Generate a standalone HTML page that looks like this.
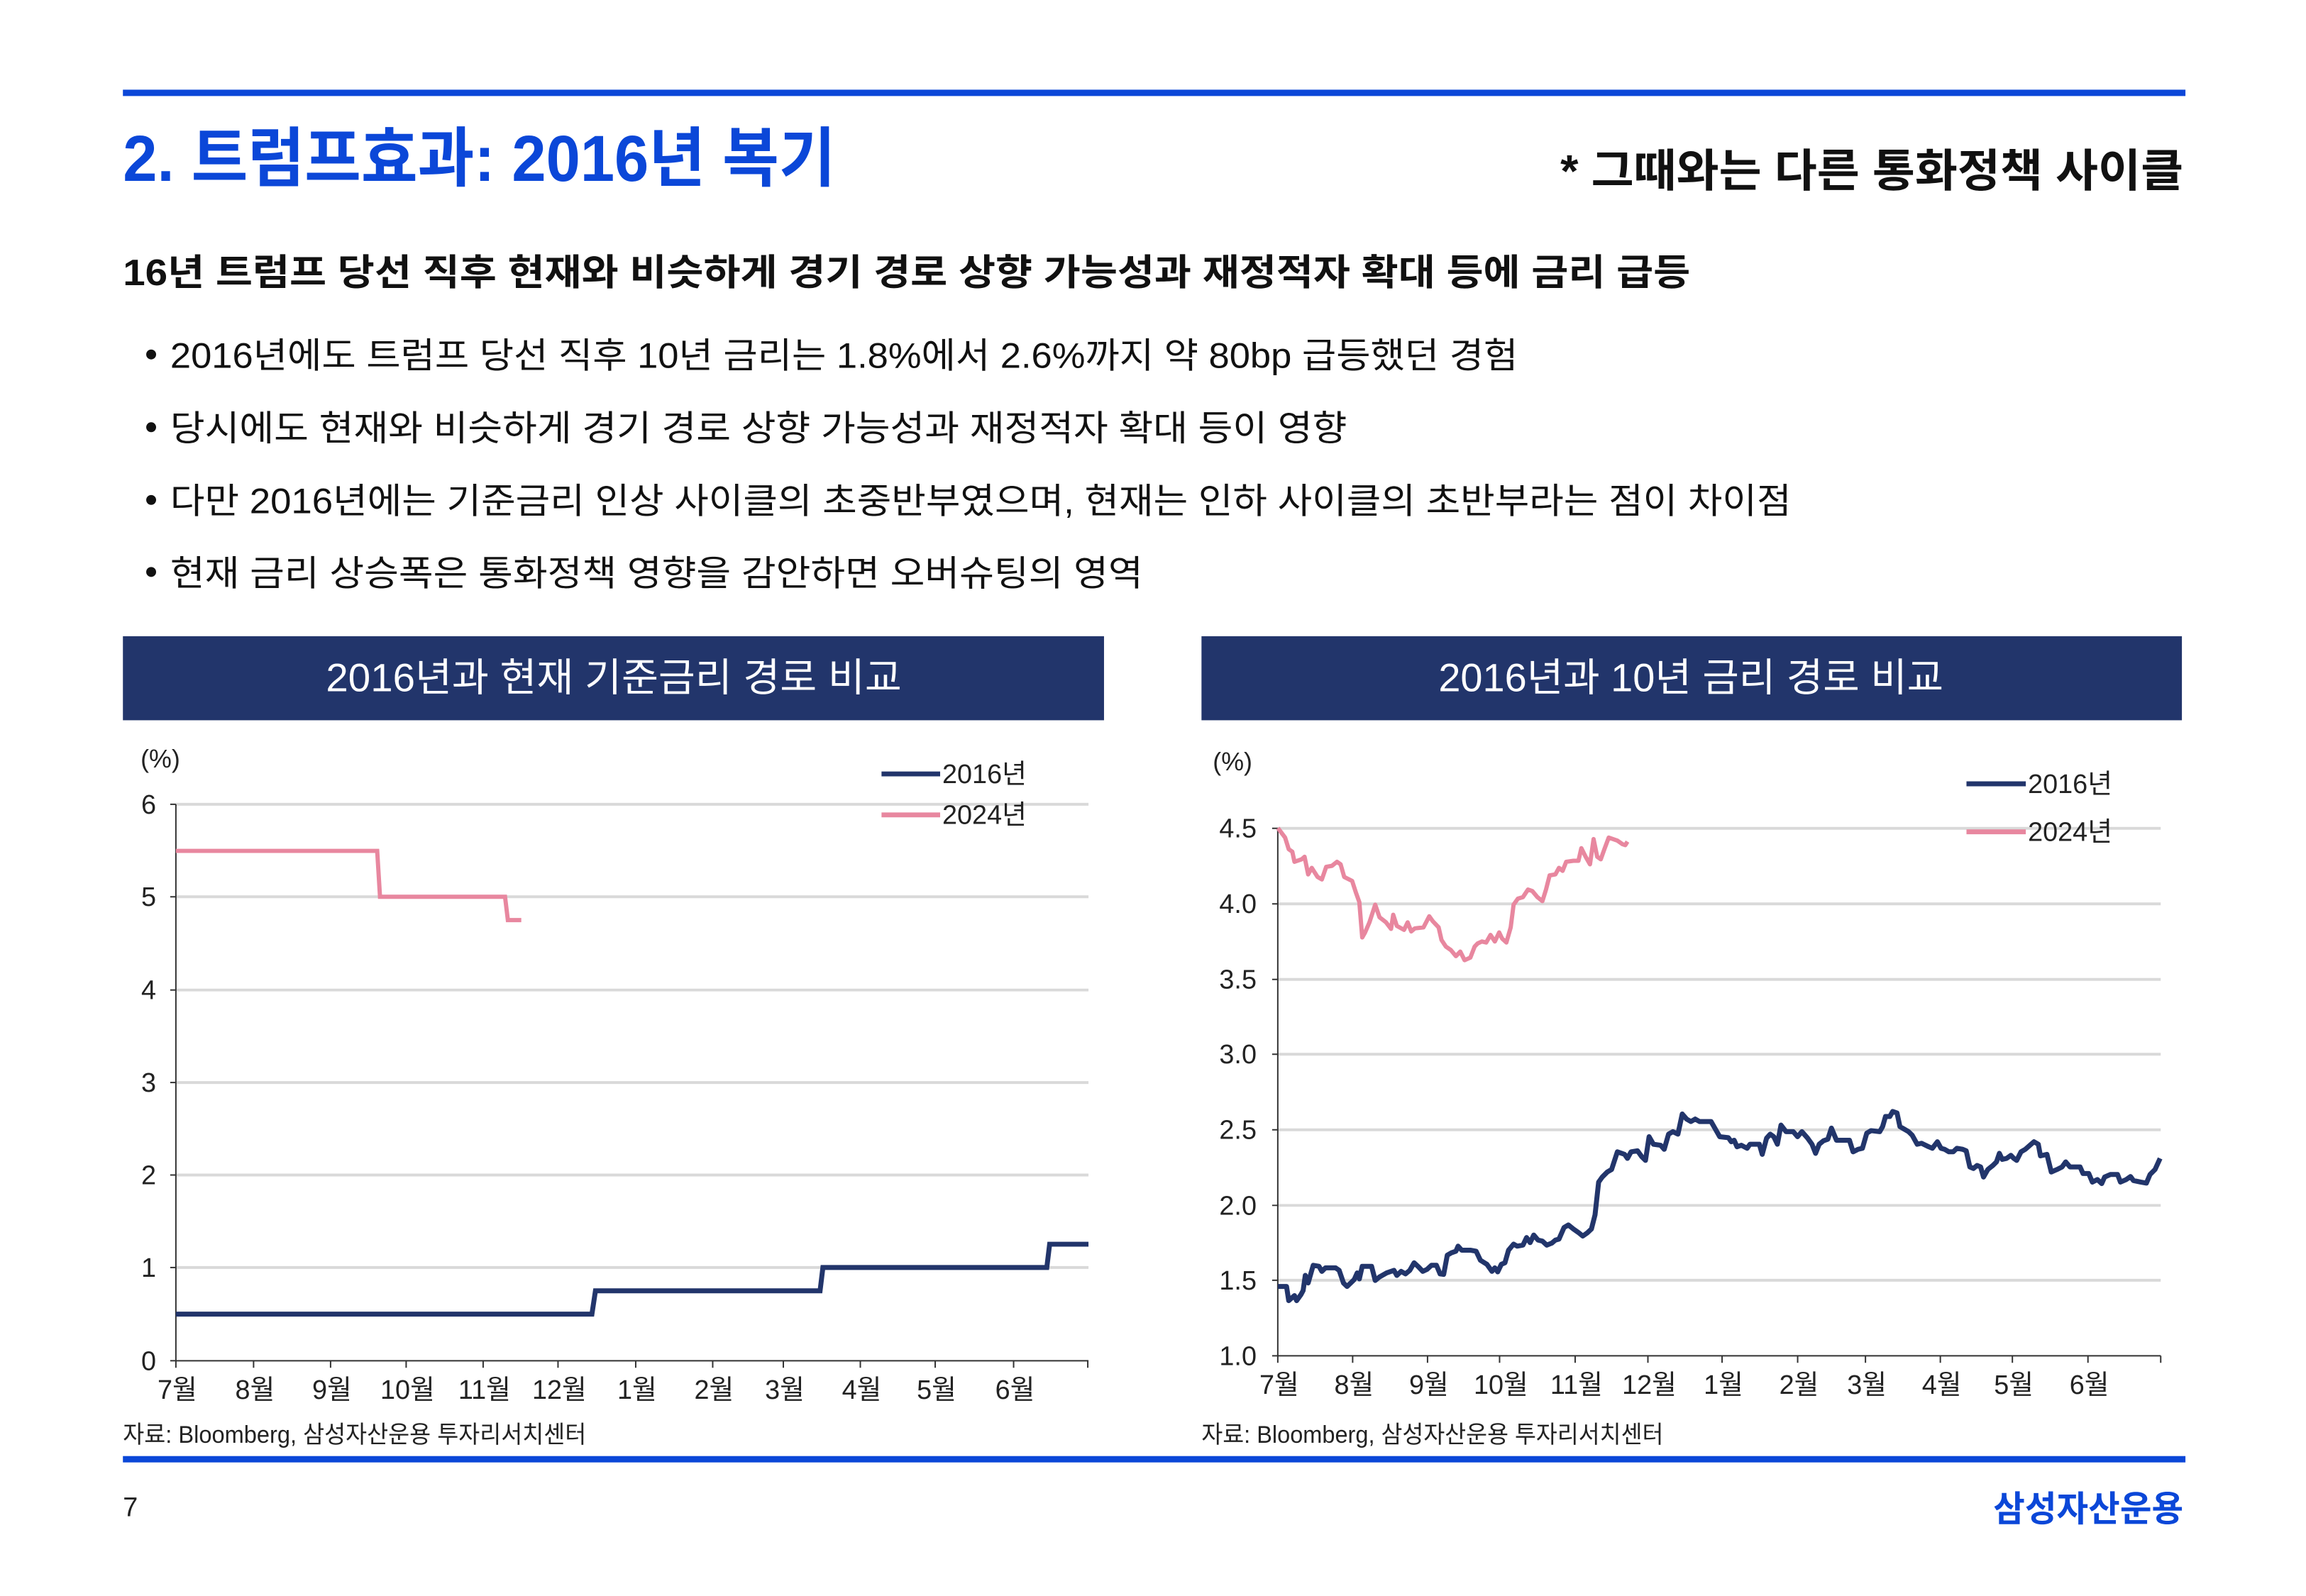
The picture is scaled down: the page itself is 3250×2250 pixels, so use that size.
<!DOCTYPE html>
<html><head><meta charset="utf-8"><style>
html,body{margin:0;padding:0;background:#fff;}
svg{display:block;}
text{font-family:"Liberation Sans","Noto Sans CJK KR",sans-serif;}
</style></head><body>
<svg width="3250" height="2250" viewBox="0 0 3250 2250" xmlns="http://www.w3.org/2000/svg">
<rect x="0" y="0" width="3250" height="2250" fill="#fff"/>
<g transform="translate(1,-1) scale(0.9955)">
<rect x="173" y="128" width="2920" height="9" fill="#0b47d8"/>
<text x="173" y="257" font-size="92" font-weight="bold" fill="#0b47d8" textLength="1009" lengthAdjust="spacingAndGlyphs">2. 트럼프효과: 2016년 복기</text>
<text x="2208" y="265" font-size="64" font-weight="bold" fill="#111" textLength="882" lengthAdjust="spacingAndGlyphs">* 그때와는 다른 통화정책 사이클</text>
<text x="173" y="405" font-size="52" font-weight="bold" fill="#111" textLength="2219" lengthAdjust="spacingAndGlyphs">16년 트럼프 당선 직후 현재와 비슷하게 경기 경로 상향 가능성과 재정적자 확대 등에 금리 급등</text>
<g font-size="50" fill="#111">
<circle cx="213" cy="503" r="7" fill="#111"/><text x="240" y="522" textLength="1908" lengthAdjust="spacingAndGlyphs">2016년에도 트럼프 당선 직후 10년 금리는 1.8%에서 2.6%까지 약 80bp 급등했던 경험</text>
<circle cx="213" cy="606" r="7" fill="#111"/><text x="240" y="625" textLength="1666" lengthAdjust="spacingAndGlyphs">당시에도 현재와 비슷하게 경기 경로 상향 가능성과 재정적자 확대 등이 영향</text>
<circle cx="213" cy="709" r="7" fill="#111"/><text x="240" y="728" textLength="2295" lengthAdjust="spacingAndGlyphs">다만 2016년에는 기준금리 인상 사이클의 초중반부였으며, 현재는 인하 사이클의 초반부라는 점이 차이점</text>
<circle cx="213" cy="811" r="7" fill="#111"/><text x="240" y="830" textLength="1377" lengthAdjust="spacingAndGlyphs">현재 금리 상승폭은 통화정책 영향을 감안하면 오버슈팅의 영역</text>
</g>

<!-- Left chart -->
<rect x="173" y="902" width="1389" height="119" fill="#22356b"/>
<text x="868" y="980" font-size="56" fill="#fff" text-anchor="middle" textLength="815" lengthAdjust="spacingAndGlyphs">2016년과 현재 기준금리 경로 비교</text>
<g stroke="#d9d9d9" stroke-width="4">
<line x1="248" y1="1140" x2="1540" y2="1140"/><line x1="248" y1="1271" x2="1540" y2="1271"/>
<line x1="248" y1="1403" x2="1540" y2="1403"/><line x1="248" y1="1534" x2="1540" y2="1534"/>
<line x1="248" y1="1665" x2="1540" y2="1665"/><line x1="248" y1="1796" x2="1540" y2="1796"/>
</g>
<g stroke="#333" stroke-width="2">
<line x1="248" y1="1140" x2="248" y2="1928"/><line x1="248" y1="1928" x2="1540" y2="1928"/>
<line x1="240" y1="1140" x2="248" y2="1140"/><line x1="240" y1="1271" x2="248" y2="1271"/><line x1="240" y1="1403" x2="248" y2="1403"/><line x1="240" y1="1534" x2="248" y2="1534"/><line x1="240" y1="1665" x2="248" y2="1665"/><line x1="240" y1="1796" x2="248" y2="1796"/><line x1="240" y1="1928" x2="248" y2="1928"/>
<path d="M248 1928v10M358 1928v10M467 1928v10M574 1928v10M683 1928v10M789 1928v10M899 1928v10M1008 1928v10M1108 1928v10M1217 1928v10M1323 1928v10M1434 1928v10M1539 1928v10"/>
</g>
<g font-size="38" fill="#222" text-anchor="end">
<text x="220" y="1153">6</text><text x="220" y="1284">5</text><text x="220" y="1416">4</text><text x="220" y="1547">3</text><text x="220" y="1678">2</text><text x="220" y="1809">1</text><text x="220" y="1941">0</text>
</g>
<text x="198" y="1088" font-size="36" fill="#222">(%)</text>
<g font-size="38" fill="#222" text-anchor="middle">
<text x="250" y="1982">7월</text><text x="360" y="1982">8월</text><text x="469" y="1982">9월</text><text x="576" y="1982">10월</text><text x="685" y="1982">11월</text><text x="791" y="1982">12월</text><text x="901" y="1982">1월</text><text x="1010" y="1982">2월</text><text x="1110" y="1982">3월</text><text x="1219" y="1982">4월</text><text x="1325" y="1982">5월</text><text x="1436" y="1982">6월</text>
</g>
<polyline fill="none" stroke="#e8879f" stroke-width="6" points="248,1206 533,1206 537,1271 714,1271 718,1304 737,1304"/>
<polyline fill="none" stroke="#22356b" stroke-width="7" points="248,1862 837,1862 842,1829 1160,1829 1164,1796 1481,1796 1485,1763 1540,1763"/>
<line x1="1247" y1="1097" x2="1330" y2="1097" stroke="#22356b" stroke-width="7"/>
<line x1="1247" y1="1155" x2="1330" y2="1155" stroke="#e8879f" stroke-width="7"/>
<text x="1333" y="1110" font-size="38" fill="#222">2016년</text>
<text x="1333" y="1168" font-size="38" fill="#222">2024년</text>
<text x="173" y="2044" font-size="34" fill="#222" textLength="656" lengthAdjust="spacingAndGlyphs">자료: Bloomberg, 삼성자산운용 투자리서치센터</text>

<!-- Right chart -->
<rect x="1700" y="902" width="1388" height="119" fill="#22356b"/>
<text x="2393" y="980" font-size="56" fill="#fff" text-anchor="middle" textLength="715" lengthAdjust="spacingAndGlyphs">2016년과 10년 금리 경로 비교</text>
<g stroke="#d9d9d9" stroke-width="4">
<line x1="1808" y1="1174" x2="3058" y2="1174"/><line x1="1808" y1="1281" x2="3058" y2="1281"/>
<line x1="1808" y1="1388" x2="3058" y2="1388"/><line x1="1808" y1="1494" x2="3058" y2="1494"/>
<line x1="1808" y1="1601" x2="3058" y2="1601"/><line x1="1808" y1="1708" x2="3058" y2="1708"/>
<line x1="1808" y1="1814" x2="3058" y2="1814"/>
</g>
<g stroke="#333" stroke-width="2">
<line x1="1808" y1="1174" x2="1808" y2="1921"/><line x1="1808" y1="1921" x2="3058" y2="1921"/>
<path d="M1800 1174h8M1800 1281h8M1800 1388h8M1800 1494h8M1800 1601h8M1800 1708h8M1800 1814h8M1800 1921h8"/>
<path d="M1808 1921v10M1914 1921v10M2020 1921v10M2122 1921v10M2229 1921v10M2332 1921v10M2437 1921v10M2544 1921v10M2640 1921v10M2746 1921v10M2848 1921v10M2955 1921v10M3058 1921v10"/>
</g>
<g font-size="38" fill="#222" text-anchor="end">
<text x="1778" y="1187">4.5</text><text x="1778" y="1294">4.0</text><text x="1778" y="1401">3.5</text><text x="1778" y="1507">3.0</text><text x="1778" y="1614">2.5</text><text x="1778" y="1721">2.0</text><text x="1778" y="1827">1.5</text><text x="1778" y="1934">1.0</text>
</g>
<text x="1716" y="1092" font-size="36" fill="#222">(%)</text>
<g font-size="38" fill="#222" text-anchor="middle">
<text x="1810" y="1975">7월</text><text x="1916" y="1975">8월</text><text x="2022" y="1975">9월</text><text x="2124" y="1975">10월</text><text x="2231" y="1975">11월</text><text x="2334" y="1975">12월</text><text x="2439" y="1975">1월</text><text x="2546" y="1975">2월</text><text x="2642" y="1975">3월</text><text x="2748" y="1975">4월</text><text x="2850" y="1975">5월</text><text x="2957" y="1975">6월</text>
</g>
<g transform="translate(1650,1000) scale(1.0204,0.7143)">
<polyline fill="none" stroke="#e8879f" stroke-width="6" vector-effect="non-scaling-stroke" stroke-linejoin="round" points="155,243 165,262 170,285 175,290 178,310 188,305 192,300 197,335 202,322 210,340 216,345 222,320 230,318 237,310 242,315 247,340 258,348 263,370 268,390 272,460 276,450 282,430 290,395 296,420 305,430 312,443 315,415 320,437 330,445 335,430 340,448 345,442 357,440 365,418 370,428 378,440 382,465 388,478 395,485 402,497 408,488 414,505 422,500 428,478 432,472 438,468 444,470 450,455 456,468 462,450 466,462 472,470 478,440 482,395 488,383 495,380 502,365 508,368 515,380 522,388 527,365 532,337 540,335 545,322 550,328 555,310 565,308 572,308 576,283 582,300 588,315 593,265 598,300 603,305 608,285 614,262 620,265 626,268 633,275 637,277 640,270"/>
<polyline fill="none" stroke="#22356b" stroke-width="7" vector-effect="non-scaling-stroke" stroke-linejoin="round" points="155,1152 167,1152 170,1180 178,1170 181,1180 187,1168 190,1160 193,1130 197,1145 204,1110 212,1112 216,1122 221,1115 228,1115 235,1115 240,1120 246,1145 251,1152 256,1145 261,1138 265,1125 268,1137 272,1112 285,1112 290,1140 296,1133 306,1125 316,1120 320,1130 326,1122 332,1127 338,1120 344,1105 350,1113 356,1122 362,1118 368,1110 375,1110 380,1127 385,1128 390,1090 396,1085 402,1082 405,1072 410,1080 416,1080 422,1080 430,1082 436,1100 445,1108 452,1122 456,1115 460,1123 465,1108 470,1105 475,1080 482,1068 487,1072 495,1070 500,1055 505,1065 510,1050 516,1060 522,1062 528,1070 535,1066 540,1060 545,1058 552,1035 558,1030 565,1038 572,1045 578,1052 584,1046 590,1038 595,1010 600,945 605,935 612,925 618,920 623,898 626,885 636,890 640,898 645,885 654,883 660,895 665,902 670,855 676,870 686,872 691,880 697,850 703,845 710,850 716,810 722,820 728,825 734,820 740,825 756,825 762,840 768,855 780,857 784,865 788,862 792,875 798,872 806,878 810,870 823,870 827,890 833,858 838,850 843,855 848,870 853,832 860,845 870,845 876,855 882,845 890,858 896,870 901,888 906,870 912,863 918,860 923,838 930,862 940,862 948,862 953,885 960,880 966,878 972,848 978,843 990,845 994,835 998,815 1004,815 1008,805 1014,808 1018,835 1024,840 1030,845 1035,852 1042,870 1048,868 1058,875 1063,878 1070,865 1075,878 1080,880 1086,885 1092,885 1097,878 1105,880 1110,883 1115,915 1120,918 1125,912 1130,915 1134,935 1140,920 1147,912 1152,905 1156,888 1160,900 1166,898 1172,892 1176,898 1180,902 1186,885 1192,880 1200,870 1204,865 1210,870 1213,893 1222,890 1228,925 1236,920 1243,915 1248,905 1254,915 1268,915 1272,928 1280,928 1285,945 1292,940 1298,948 1302,935 1310,930 1320,930 1324,945 1332,940 1338,934 1342,942 1352,945 1360,947 1365,930 1372,920 1379,898"/>
</g>
<line x1="2783" y1="1111" x2="2867" y2="1111" stroke="#22356b" stroke-width="7"/>
<line x1="2783" y1="1179" x2="2867" y2="1179" stroke="#e8879f" stroke-width="7"/>
<text x="2870" y="1124" font-size="38" fill="#222">2016년</text>
<text x="2870" y="1192" font-size="38" fill="#222">2024년</text>
<text x="1700" y="2044" font-size="34" fill="#222" textLength="654" lengthAdjust="spacingAndGlyphs">자료: Bloomberg, 삼성자산운용 투자리서치센터</text>

<rect x="173" y="2063" width="2920" height="9" fill="#0b47d8"/>
<text x="173" y="2148" font-size="38" fill="#222">7</text>
<text x="3090" y="2155" font-size="50" font-weight="bold" fill="#0b47d8" text-anchor="end" textLength="269" lengthAdjust="spacingAndGlyphs">삼성자산운용</text>
</g>
</svg>
</body></html>
